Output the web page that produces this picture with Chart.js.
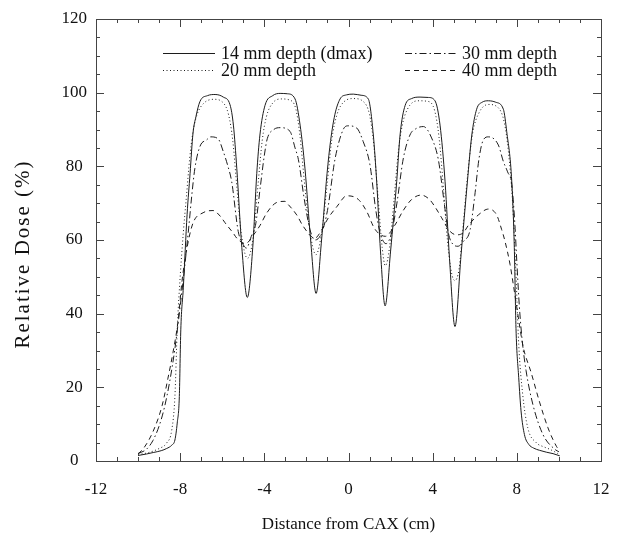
<!DOCTYPE html>
<html><head><meta charset="utf-8">
<script src="https://cdn.jsdelivr.net/npm/chart.js@4.4.1/dist/chart.umd.min.js"></script>
<style>html,body{margin:0;padding:0;background:#fff;}#wrap{position:relative;width:619px;height:538px;}</style>
</head><body><div id="wrap"><canvas id="c" width="619" height="538"></canvas></div>
<script>
// ---- data ----
const seriesLabels = ["14 mm depth (dmax)", "20 mm depth", "30 mm depth", "40 mm depth"];
const xTitle = "Distance from CAX (cm)";
const yTitle = "Relative Dose (%)";
const xTickValues = [-12, -8, -4, 0, 4, 8, 12];
const yTickValues = [0, 20, 40, 60, 80, 100, 120];

const x14 = [-10, -9.6, -9.28, -8.9, -8.64, -8.4, -8.25, -8.14, -8.04, -7.97, -7.85, -7.67, -7.53, -7.39, -7.25, -7.06, -6.7, -6.34, -5.95, -5.63, -5.47, -5.31, -5.07, -4.81, -4.55, -4.36, -4.21, -3.97, -3.6, -3.25, -2.9, -2.54, -2.3, -2.07, -1.8, -1.54, -1.28, -1.02, -0.85, -0.65, -0.4, -0.1, 0.23, 0.6, 0.94, 1.18, 1.34, 1.52, 1.74, 2.0, 2.29, 2.45, 2.69, 3.0, 3.4, 3.8, 4.11, 4.35, 4.59, 4.8, 5.06, 5.35, 5.65, 5.86, 6.09, 6.35, 6.65, 7.0, 7.36, 7.52, 7.76, 7.88, 7.96, 8.09, 8.2, 8.36, 8.57, 8.8, 9.08, 9.4, 9.72, 10.04];
const dose14 = [1.5, 1.9, 2.3, 2.8, 3.4, 4.3, 5.7, 10.3, 17.5, 35.6, 47, 67, 78, 89, 93.5, 97.6, 99.2, 99.5, 98.8, 96.7, 91.2, 79.5, 58, 44.4, 58, 78, 88.5, 96.5, 99.2, 99.8, 99.7, 98.3, 91.2, 79.5, 60, 45.5, 60, 78, 87, 94, 98.3, 99.4, 99.6, 99.3, 98.3, 88.5, 75.8, 57, 42.1, 57, 75.8, 88.5, 96.5, 98.4, 98.8, 98.7, 97.8, 91.2, 75.8, 55, 36.5, 56, 75.8, 88.5, 95.5, 97.4, 97.8, 97.4, 95.5, 89.4, 75.8, 58, 36, 22.6, 13.6, 7.2, 4.5, 3.5, 2.9, 2.4, 2.0, 1.4];

const x20 = [-10, -9.5, -9.0, -8.64, -8.4, -8.25, -8.14, -8.0, -7.85, -7.7, -7.55, -7.4, -7.2, -6.9, -6.4, -6.0, -5.7, -5.5, -5.3, -5.1, -4.8, -4.5, -4.3, -4.1, -3.9, -3.6, -3.2, -2.8, -2.5, -2.3, -2.1, -1.85, -1.55, -1.25, -1.0, -0.8, -0.55, -0.2, 0.25, 0.7, 1.0, 1.2, 1.4, 1.6, 1.75, 1.95, 2.15, 2.35, 2.55, 2.8, 3.3, 3.8, 4.1, 4.3, 4.5, 4.7, 4.9, 5.05, 5.25, 5.45, 5.65, 5.9, 6.2, 6.65, 7.1, 7.4, 7.6, 7.8, 7.95, 8.09, 8.28, 8.52, 8.92, 9.3, 9.56, 9.96];
const dose20 = [1.7, 2.3, 3.4, 4.9, 8.4, 17.5, 35.6, 50, 62, 72, 82, 89, 94, 97, 98.2, 97.5, 94, 87, 74, 62, 55, 62, 75, 87, 93.5, 97.2, 98.3, 98, 95.5, 88, 76, 63, 56, 63, 76, 87, 94, 97.6, 98.4, 97.6, 94, 86, 72, 58, 53, 58, 70, 83, 91, 95.5, 97.8, 97.6, 95, 88, 75, 60, 51, 49, 52, 64, 77, 89, 94.5, 96.8, 96, 92, 84, 70, 52, 31.7, 18, 9, 5, 3.8, 3.2, 2];

const x30 = [-10, -9.6, -9.3, -9.0, -8.75, -8.5, -8.25, -8.0, -7.8, -7.6, -7.45, -7.3, -7.06, -6.74, -6.55, -6.2, -5.95, -5.75, -5.55, -5.24, -5.0, -4.85, -4.62, -4.42, -4.2, -4.0, -3.86, -3.55, -3.25, -2.78, -2.54, -2.38, -2.1, -1.83, -1.59, -1.27, -1.0, -0.64, -0.25, -0.02, 0.39, 0.7, 1.02, 1.3, 1.5, 1.78, 2.05, 2.3, 2.6, 2.92, 3.2, 3.56, 3.95, 4.27, 4.55, 4.75, 4.99, 5.2, 5.46, 5.78, 6.0, 6.2, 6.41, 6.65, 7.12, 7.36, 7.56, 7.76, 7.91, 8.0, 8.12, 8.25, 8.44, 8.76, 9.24, 9.8, 10.0];
const dose30 = [2, 3.2, 5.5, 9.5, 14.5, 21.5, 30.5, 42, 52, 63, 72, 79.5, 85.4, 87.2, 88, 87.5, 84, 80.4, 75.8, 62.3, 58.7, 57.8, 61, 64, 74, 83, 87.5, 90, 90.5, 89.5, 85, 81.8, 71, 62.8, 60, 62, 68, 82, 90, 91, 90.4, 86.7, 80.4, 68, 62, 59, 62, 70, 82, 88.5, 90.2, 90.8, 87.7, 81.8, 70, 61.8, 58.7, 58.3, 59.6, 62.8, 72, 82, 87.2, 88, 85.8, 81.3, 78.5, 75, 64, 54, 42, 33, 24.5, 15.4, 7.2, 3.2, 2.5];

const x40 = [-10, -9.77, -9.29, -8.86, -8.58, -8.34, -8.1, -7.91, -7.67, -7.39, -6.91, -6.44, -6.1, -5.87, -5.47, -5.31, -4.9, -4.5, -4.2, -3.89, -3.41, -3.02, -2.86, -2.46, -2.15, -1.6, -1.25, -0.96, -0.56, -0.08, 0.47, 0.87, 1.25, 1.75, 2.2, 2.6, 3.0, 3.45, 3.85, 4.11, 4.43, 4.8, 5.14, 5.46, 5.7, 6.17, 6.65, 7.04, 7.28, 7.44, 7.68, 7.83, 7.99, 8.15, 8.3, 8.68, 9.08, 9.48, 9.88, 10.0];
const dose40 = [2, 3.2, 8, 15, 22.5, 29.5, 38, 49, 58, 64.6, 67.4, 68, 66.5, 64.7, 61.8, 60.5, 59, 61.5, 64, 67.3, 70.2, 70.5, 69.6, 66.8, 63.7, 60.5, 63, 66, 69, 72, 71, 67.7, 63, 61, 64, 68, 71, 72.2, 71, 69, 66, 62.5, 61.4, 62, 64, 66.8, 68.4, 66.8, 62.8, 59.6, 53.3, 48, 42, 36, 31, 24, 16, 9, 4, 3];

// ---- styles ----
const LINE = '#1c1c1c';
const TEXT = '#111';
const SERIF = '"Liberation Serif", "Times New Roman", serif';
const dashes = [[], [1, 2.5], [7, 3, 1.5, 3], [5, 4]];
const xsAll = [x14, x20, x30, x40];
const ysAll = [dose14, dose20, dose30, dose40];

const datasets = seriesLabels.map((lab, i) => ({
  label: lab,
  data: xsAll[i].map((x, j) => ({x: x, y: ysAll[i][j]})),
  borderColor: LINE,
  borderWidth: 1,
  borderDash: dashes[i],
  pointRadius: 0,
  fill: false,
  cubicInterpolationMode: 'monotone'
}));

const frameTicks = {
  id: 'frameTicks',
  afterDatasetsDraw(chart) {
    const {ctx, chartArea: a, scales: {x, y}} = chart;
    ctx.save();
    ctx.strokeStyle = '#444';
    ctx.lineWidth = 1;
    ctx.setLineDash([]);
    ctx.strokeRect(Math.round(a.left) + 0.5, Math.round(a.top) + 0.5, Math.round(a.right - a.left), Math.round(a.bottom - a.top));
    ctx.beginPath();
    for (let v = -12; v <= 12; v++) {
      const px = Math.round(x.getPixelForValue(v)) + 0.5;
      const len = (v % 4 === 0) ? 8 : 4;
      ctx.moveTo(px, a.bottom); ctx.lineTo(px, a.bottom - len);
      ctx.moveTo(px, a.top); ctx.lineTo(px, a.top + len);
    }
    for (let v = 0; v <= 120; v += 5) {
      const py = Math.round(y.getPixelForValue(v)) + 0.5;
      const len = (v % 20 === 0) ? 8 : 4;
      ctx.moveTo(a.left, py); ctx.lineTo(a.left + len, py);
      ctx.moveTo(a.right, py); ctx.lineTo(a.right - len, py);
    }
    ctx.stroke();
    ctx.restore();
  },
  afterDraw(chart) {
    const {ctx, chartArea: a} = chart;
    ctx.save();
    ctx.fillStyle = TEXT;
    // axis titles
    ctx.font = '17px ' + SERIF;
    ctx.textAlign = 'center';
    ctx.textBaseline = 'middle';
    ctx.fillText(xTitle, (a.left + a.right) / 2, 525);
    ctx.save();
    ctx.translate(23, 254);
    ctx.rotate(-Math.PI / 2);
    ctx.font = '21px ' + SERIF;
    try { ctx.letterSpacing = '2px'; } catch (e) {}
    ctx.fillText(yTitle, 0, 0);
    ctx.restore();
    // legend
    const items = [
      {i: 0, x1: 163, x2: 215, y: 53, tx: 221},
      {i: 1, x1: 163, x2: 215, y: 70, tx: 221},
      {i: 2, x1: 405, x2: 456, y: 53, tx: 462},
      {i: 3, x1: 405, x2: 456, y: 70, tx: 462}
    ];
    ctx.font = '18px ' + SERIF;
    ctx.textAlign = 'left';
    items.forEach(it => {
      ctx.strokeStyle = LINE;
      ctx.lineWidth = 1;
      ctx.setLineDash(dashes[it.i]);
      ctx.beginPath();
      ctx.moveTo(it.x1, it.y + 0.5);
      ctx.lineTo(it.x2, it.y + 0.5);
      ctx.stroke();
      ctx.setLineDash([]);
      ctx.fillText(chart.data.datasets[it.i].label, it.tx, it.y + 1);
    });
    ctx.restore();
  }
};

new Chart(document.getElementById('c'), {
  type: 'line',
  data: {datasets: datasets},
  options: {
    responsive: false,
    animation: false,
    devicePixelRatio: 1,
    layout: {padding: {left: 0, right: 18, top: 19, bottom: 0}},
    plugins: {legend: {display: false}, tooltip: {enabled: false}},
    scales: {
      x: {
        type: 'linear', min: -12, max: 12,
        grid: {display: false, drawTicks: false},
        border: {display: false},
        afterBuildTicks(s) { s.ticks = xTickValues.map(v => ({value: v})); },
        ticks: {font: {family: SERIF, size: 17}, color: TEXT, padding: 18, maxRotation: 0, autoSkip: false},
        afterFit(s) { s.height = 77; s.paddingLeft = 0; s.paddingRight = 0; }
      },
      y: {
        type: 'linear', min: 0, max: 120,
        grid: {display: false, drawTicks: false},
        border: {display: false},
        afterBuildTicks(s) { s.ticks = yTickValues.map(v => ({value: v})); },
        ticks: {font: {family: SERIF, size: 17}, color: TEXT, padding: 9, crossAlign: 'center', autoSkip: false},
        afterFit(s) { s.width = 96; s.paddingTop = 0; s.paddingBottom = 0; }
      }
    }
  },
  plugins: [frameTicks]
});
</script>
</body></html>
